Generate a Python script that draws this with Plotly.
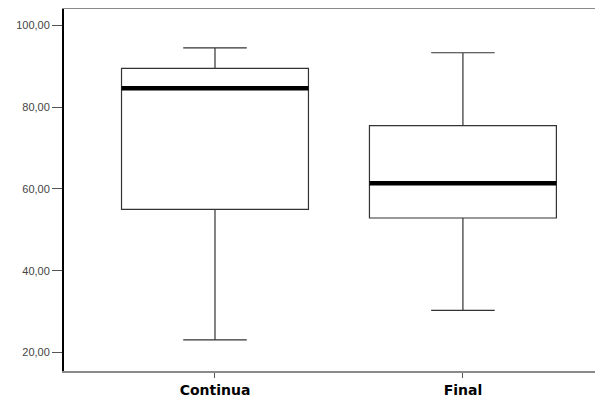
import plotly.graph_objects as go

categories = ["Continua", "Final"]
mins = [23.1, 30.3]
q1s = [55.0, 52.9]
medians = [84.6, 61.4]
q3s = [89.5, 75.5]
maxs = [94.5, 93.3]
y_ticks = [20, 40, 60, 80, 100]

box_width = 0.754
positions = list(range(len(categories)))

fig = go.Figure()
for i, cat in enumerate(categories):
    fig.add_trace(go.Box(
        x=[positions[i]], q1=[q1s[i]], median=[medians[i]], q3=[q3s[i]],
        lowerfence=[mins[i]], upperfence=[maxs[i]],
        width=box_width, whiskerwidth=0.34,
        fillcolor="white", line=dict(color="#333333", width=1.2),
        boxpoints=False, showlegend=False, name=cat, hoverinfo="skip",
    ))
    fig.add_trace(go.Scatter(
        x=[positions[i] - box_width / 2, positions[i] + box_width / 2],
        y=[medians[i], medians[i]], mode="lines",
        line=dict(color="black", width=4.5), showlegend=False, hoverinfo="skip",
    ))

# page body has an 8px default margin, so the figure is offset by 8px
fig.update_layout(
    width=595, height=393,
    margin=dict(l=56, r=0, t=1, b=30),
    paper_bgcolor="white", plot_bgcolor="white",
    separators=",.",
    font=dict(family="Liberation Sans, Arial, sans-serif"),
)
fig.update_xaxes(
    range=[-0.609, 1.565], tickvals=positions, ticktext=categories,
    showline=True, linecolor="#8a8a8a", linewidth=1.5, mirror=True,
    ticks="outside", ticklen=5, tickcolor="#555555", tickwidth=1,
    showgrid=False, zeroline=False,
    tickfont=dict(size=14, color="black", family="DejaVu Sans, sans-serif", weight="bold"),
)
fig.update_yaxes(
    range=[15.5, 104.0], tickvals=y_ticks, tickformat=".2f",
    showline=True, linecolor="black", linewidth=2,
    ticks="outside", ticklen=10, tickcolor="#555555", tickwidth=1,
    showgrid=False, zeroline=False,
    tickfont=dict(size=11, color="#444444"),
)

fig.write_html("out.html")
